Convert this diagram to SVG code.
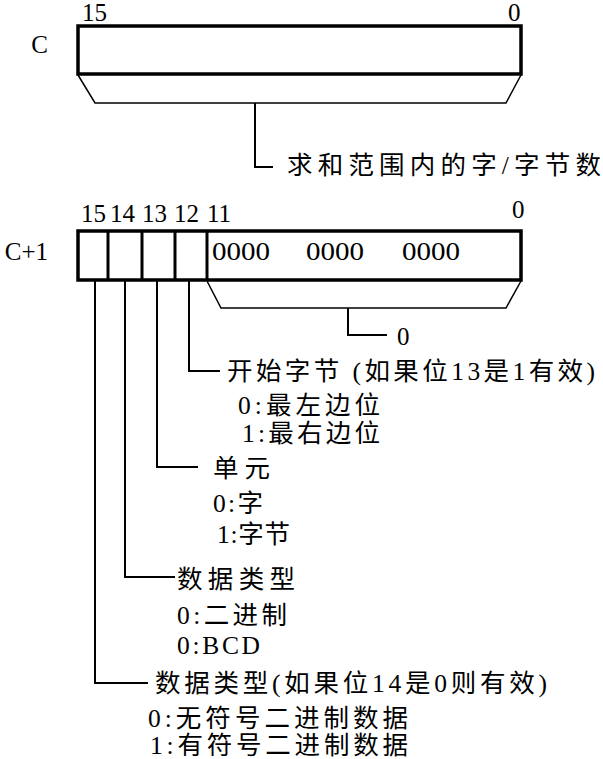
<svg xmlns="http://www.w3.org/2000/svg" width="603" height="759" viewBox="0 0 603 759">
<style>
text{font-family:"Liberation Serif","Noto Sans CJK SC",serif;font-size:25px;fill:#000}
.lb{font-size:25.5px}
.box{fill:none;stroke:#000;stroke-width:3.5}
.div{stroke:#000;stroke-width:3}
.thin{fill:none;stroke:#000;stroke-width:1.5}
.con{fill:none;stroke:#000;stroke-width:2}
</style>
<rect width="603" height="759" fill="#fff"/>
<g id="wordC">
<text x="48" y="53" text-anchor="end" font-size="27">C</text>
<text x="82" y="21">15</text>
<text x="508" y="21">0</text>
<rect class="box" x="78" y="26" width="443" height="48"/>
<polyline class="thin" points="78,75 95,103 506,103 521,75"/>
</g>
<g id="labelC">
<text class="lb" x="287" y="174" textLength="314" lengthAdjust="spacing">求和范围内的字/字节数</text>
</g>
<g id="wordC1">
<text x="48" y="260" text-anchor="end">C+1</text>
<text x="81" y="222">15</text>
<text x="110" y="222">14</text>
<text x="142" y="222">13</text>
<text x="174" y="222">12</text>
<text x="207" y="222">11</text>
<text x="512" y="218">0</text>
<rect class="box" x="78" y="231" width="443" height="49"/>
<line class="div" x1="108" y1="231" x2="108" y2="280"/>
<line class="div" x1="142" y1="231" x2="142" y2="280"/>
<line class="div" x1="175" y1="231" x2="175" y2="280"/>
<line class="div" x1="207" y1="231" x2="207" y2="280"/>
<text x="212" y="260" textLength="58" lengthAdjust="spacingAndGlyphs">0000</text>
<text x="306" y="260" textLength="58" lengthAdjust="spacingAndGlyphs">0000</text>
<text x="402" y="260" textLength="58" lengthAdjust="spacingAndGlyphs">0000</text>
<polyline class="thin" points="207,281 221,308 506,308 521,281"/>
</g>
<g id="label0">
<text x="397" y="345">0</text>
</g>
<g id="startByte">
<text class="lb" x="227" y="380" textLength="368" lengthAdjust="spacing">开始字节 (如果位13是1有效)</text>
<text class="lb" x="238" y="414" textLength="142" lengthAdjust="spacing">0:最左边位</text>
<text class="lb" x="242" y="442" textLength="138" lengthAdjust="spacing">1:最右边位</text>
</g>
<g id="unit">
<text class="lb" x="213" y="477" textLength="57" lengthAdjust="spacing">单元</text>
<text class="lb" x="213" y="512" textLength="50" lengthAdjust="spacing">0:字</text>
<text class="lb" x="217" y="543" textLength="73" lengthAdjust="spacing">1:字节</text>
</g>
<g id="dataType">
<text class="lb" x="177" y="588" textLength="118" lengthAdjust="spacing">数据类型</text>
<text class="lb" x="177" y="624" textLength="110" lengthAdjust="spacing">0:二进制</text>
<text class="lb" x="177" y="654" textLength="83" lengthAdjust="spacing">0:BCD</text>
</g>
<g id="dataType2">
<text class="lb" x="155" y="692" textLength="392" lengthAdjust="spacing">数据类型(如果位14是0则有效)</text>
<text class="lb" x="148" y="727" textLength="260" lengthAdjust="spacing">0:无符号二进制数据</text>
<text class="lb" x="150" y="754" textLength="258" lengthAdjust="spacing">1:有符号二进制数据</text>
</g>
<g id="connectors">
<polyline class="con" points="255,103 255,167 273,167"/>
<polyline class="con" points="348,308 348,335 387,335"/>
<polyline class="con" points="189,280 189,371 220,371"/>
<polyline class="con" points="157,280 157,467 198,467"/>
<polyline class="con" points="125,280 125,577 175,577"/>
<polyline class="con" points="95,280 95,683 148,683"/>
</g>
</svg>
